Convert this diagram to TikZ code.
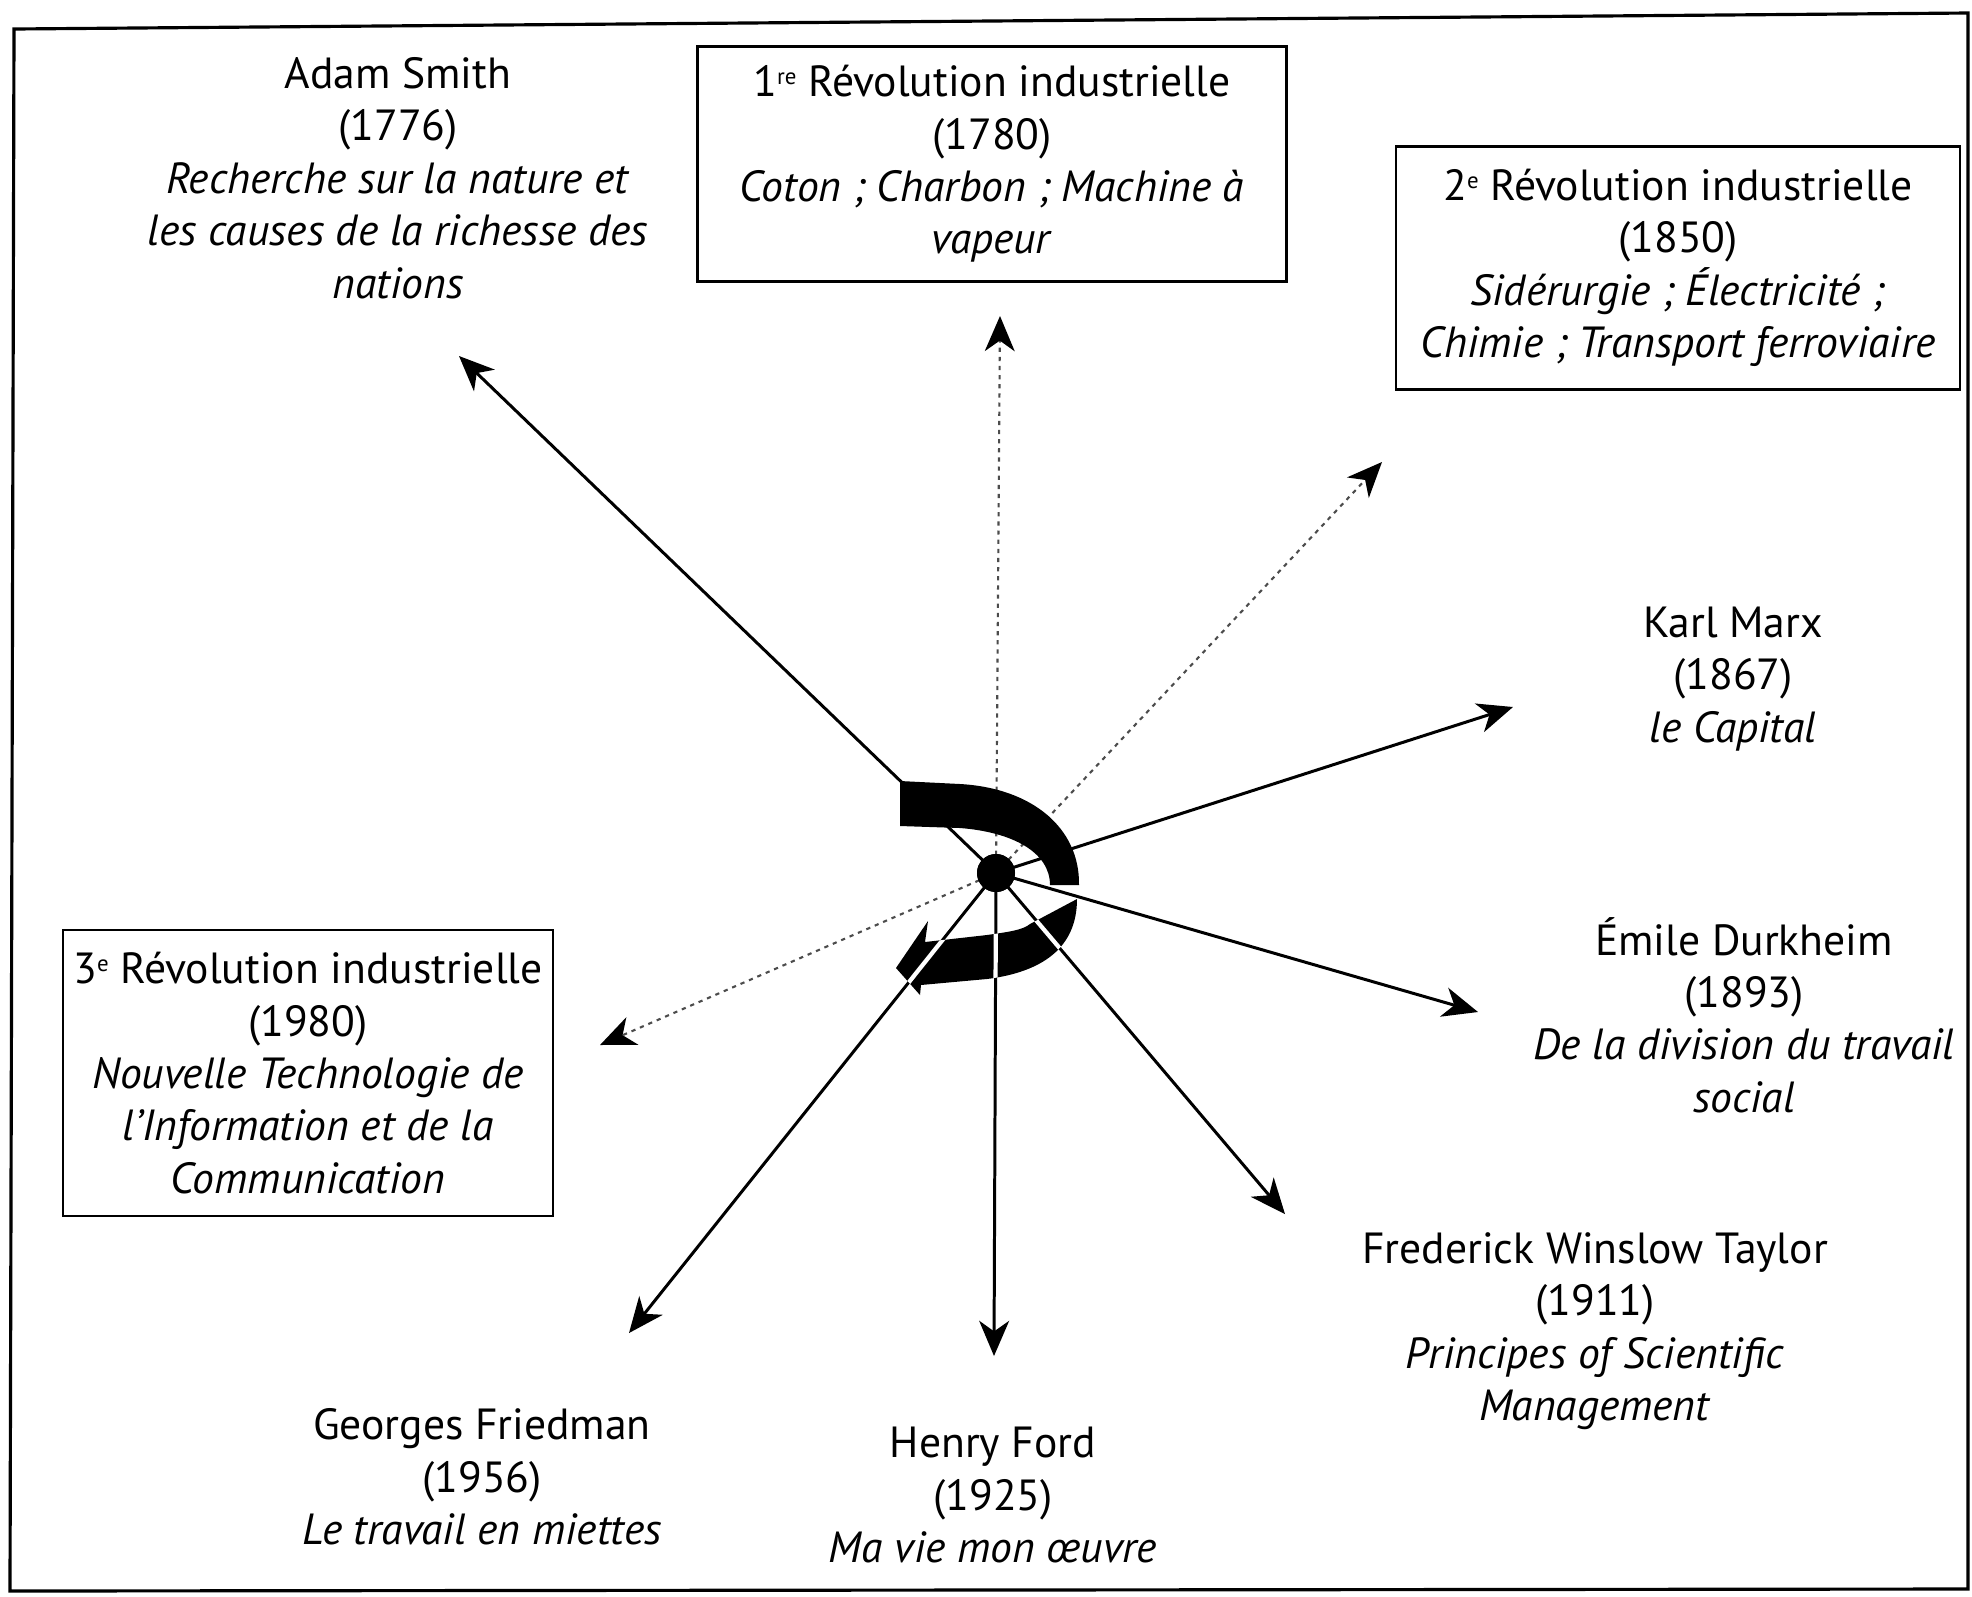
\documentclass[tikz,border=0pt]{standalone}
\usepackage{fontspec}
\setmainfont{PT Sans}
\usetikzlibrary{arrows.meta}

\pgfdeclarelayer{rays}
\pgfdeclarelayer{lowband}
\pgfdeclarelayer{rayfront}
\pgfsetlayers{rays,lowband,rayfront,main}

\newcommand\ordsup[1]{\raisebox{0.55ex}{\fontsize{6.5}{7}\selectfont #1}}

\tikzset{
  txt/.style={align=center, font=\fontsize{12.4}{14.9}\selectfont, inner sep=0pt},
  revbox/.style={txt, draw, line width=0.7pt},
  tipshape/.style={-{Stealth[length=10pt,width=8.5pt,inset=3pt,color=black]}},
  solidarr/.style={tipshape, line width=0.85pt},
  dotarr/.style={tipshape, line width=0.6pt, black!70, dash pattern=on 1.2pt off 1.4pt},
  whiteray/.style={white, line width=1.2pt},
  hubdot/.style={circle, fill=black, inner sep=0pt, minimum size=0.38cm},
}

% thick curved arrow around the hub: lower (arrow) part
\def\lowbandpath{(1030,924) -- (1077,899) .. controls (1077,948) and (1042,972) .. (987,979)
  -- (921,985) -- (920,995) -- (896,968) -- (928,921) -- (925,942) -- (987,935)
  .. controls (1008,932) and (1023,930) .. (1030,924) -- cycle}
% upper part of the curved arrow
\def\upbandpath{(900,781) -- (960,784) .. controls (1032,788) and (1080,828) .. (1079,885)
  -- (1050,885) .. controls (1050,852) and (1012,832) .. (960,828) -- (900,826) -- cycle}

\begin{document}
\begin{tikzpicture}[x=0.01cm, y=-0.01cm]
\useasboundingbox (0,0) rectangle (1972,1596);

% outer frame
\draw[line width=0.9pt] (14,29) -- (1968,13) -- (1968,1589) -- (10,1591) -- cycle;

% hub
\node[hubdot] (hub) at (996,873) {};

% arrow ends
\coordinate (tSmith)  at (459,356);
\coordinate (tRevA)   at (1000,316);
\coordinate (tRevB)   at (1382,462);
\coordinate (tMarx)   at (1513,707);
\coordinate (tDurk)   at (1478,1012);
\coordinate (tTaylor) at (1285,1214);
\coordinate (tFord)   at (994,1356);
\coordinate (tFried)  at (629,1333);
\coordinate (tRevC)   at (600,1045);

% texts
\node[txt] (smith) at (398,178) {Adam Smith\\(1776)\\\textit{Recherche sur la nature et}\\\textit{les causes de la richesse des}\\\textit{nations}};
\node[revbox, minimum width=5.89cm, minimum height=2.35cm] (rev1) at (992,164)
  {1\ordsup{re} Révolution industrielle\\(1780)\\\textit{Coton ; Charbon ; Machine à}\\\textit{vapeur}};
\node[revbox, minimum width=5.64cm, minimum height=2.43cm] (rev2) at (1678,268)
  {2\ordsup{e} Révolution industrielle\\(1850)\\\textit{Sidérurgie ; Électricité ;}\\\textit{Chimie ; Transport ferroviaire}};
\node[revbox, minimum width=4.90cm, minimum height=2.86cm] (rev3) at (308,1073)
  {3\ordsup{e} Révolution industrielle\\(1980)\\\textit{Nouvelle Technologie de}\\\textit{l’Information et de la}\\\textit{Communication}};
\node[txt] (marx) at (1733,679) {Karl Marx\\(1867)\\\textit{le Capital}};
\node[txt] (durk) at (1744,1015) {Émile Durkheim\\(1893)\\\textit{De la division du travail}\\\textit{social}};
\node[txt] (taylor) at (1595,1331) {Frederick Winslow Taylor\\(1911)\\\textit{Principes of Scientific}\\\textit{Management}};
\node[txt] (ford) at (993,1495) {Henry Ford\\(1925)\\\textit{Ma vie mon œuvre}};
\node[txt] (fried) at (482,1477) {Georges Friedman\\(1956)\\\textit{Le travail en miettes}};

% rays from the hub
\begin{pgfonlayer}{rays}
  \draw[solidarr] (hub.center) -- (tSmith);
  \draw[dotarr]   (hub.center) -- (tRevA);
  \draw[dotarr]   (hub.center) -- (tRevB);
  \draw[solidarr] (hub.center) -- (tMarx);
  \draw[solidarr] (hub.center) -- (tDurk);
  \draw[solidarr] (hub.center) -- (tTaylor);
  \draw[solidarr] (hub.center) -- (tFord);
  \draw[solidarr] (hub.center) -- (tFried);
  \draw[dotarr]   (hub.center) -- (tRevC);
\end{pgfonlayer}

% lower band sits behind the rays
\begin{pgfonlayer}{lowband}
  \fill \lowbandpath;
\end{pgfonlayer}
\begin{pgfonlayer}{rayfront}
  \begin{scope}
    \clip \lowbandpath;
    \draw[whiteray] (hub.center) -- (tTaylor);
    \draw[whiteray] (hub.center) -- (tFord);
    \draw[whiteray] (hub.center) -- (tFried);
    \draw[whiteray] (hub.center) -- (tDurk);
  \end{scope}
\end{pgfonlayer}

% upper band covers the rays
\fill \upbandpath;
% hub dot on top
\fill (hub.center) circle[radius=19];
\end{tikzpicture}
\end{document}
